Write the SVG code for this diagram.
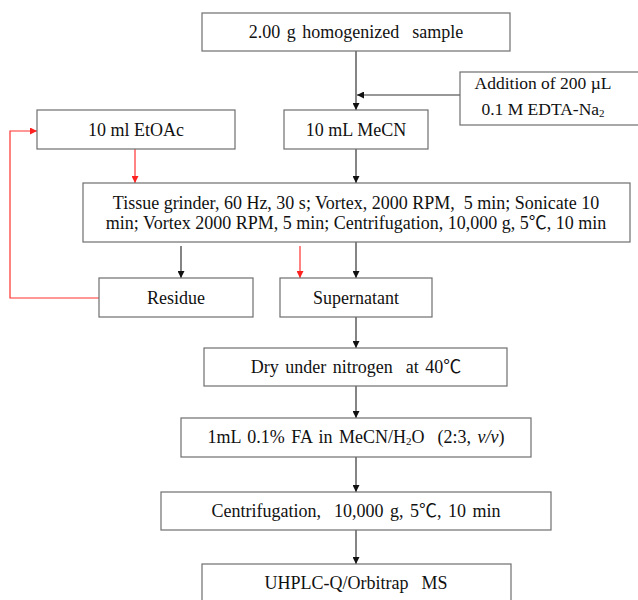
<svg xmlns="http://www.w3.org/2000/svg" width="638" height="600" viewBox="0 0 638 600" xml:space="preserve">
<defs>
<style>
.box{fill:#fff;stroke:#6e6e6e;stroke-width:1.2}
.t{font-family:"Liberation Serif","Times New Roman","Noto Sans CJK SC",serif;font-size:18px;fill:#111;text-anchor:middle;dominant-baseline:central;white-space:pre}
.k{stroke:#333;stroke-width:1.2;fill:none}
.r{stroke:#ff3030;stroke-width:1.2;fill:none}
.w{word-spacing:2px}
</style>
<marker id="ak" viewBox="0 0 10 10" refX="10" refY="5" markerWidth="7" markerHeight="7" markerUnits="userSpaceOnUse" orient="auto"><path d="M0,0L10,5L0,10z" fill="#111"/></marker>
<marker id="ar" viewBox="0 0 10 10" refX="10" refY="5" markerWidth="7" markerHeight="7" markerUnits="userSpaceOnUse" orient="auto"><path d="M0,0L10,5L0,10z" fill="#ff2020"/></marker>
</defs>
<rect width="638" height="600" fill="#fff"/>
<g id="connectors">
<path class="k" d="M356,51V110" marker-end="url(#ak)"/>
<path class="k" d="M460,95H357" marker-end="url(#ak)"/>
<path class="k" d="M356,149V183" marker-end="url(#ak)"/>
<path class="r" d="M135,149V183" marker-end="url(#ar)"/>
<path class="k" d="M181,246V278" marker-end="url(#ak)"/>
<path class="r" d="M300,246V278" marker-end="url(#ar)"/>
<path class="k" d="M356,242V278" marker-end="url(#ak)"/>
<path class="r" d="M99,298H10V131H37" marker-end="url(#ar)"/>
<path class="k" d="M356,317V348" marker-end="url(#ak)"/>
<path class="k" d="M356,386V418" marker-end="url(#ak)"/>
<path class="k" d="M356,457V492" marker-end="url(#ak)"/>
<path class="k" d="M356,530V564" marker-end="url(#ak)"/>
</g>
<g id="sample"><rect class="box" x="202" y="13" width="308" height="38"/><text class="t w" x="356" y="32">2.00 g homogenized  sample</text></g>
<g id="edta"><rect class="box" x="460" y="72" width="185" height="53"/><text class="t" x="543" y="83" style="font-size:17.5px">Addition of 200 µL</text><text class="t" x="543" y="109" style="font-size:17.5px">0.1 M EDTA-Na<tspan font-size="11" dy="4">2</tspan></text></g>
<g id="etoac"><rect class="box" x="37" y="110" width="198" height="39"/><text class="t" x="136" y="130">10 ml EtOAc</text></g>
<g id="mecn"><rect class="box" x="284" y="110" width="144" height="39"/><text class="t" x="356" y="130">10 mL MeCN</text></g>
<g id="extraction"><rect class="box" x="83" y="183" width="547" height="59"/><text class="t" x="356" y="203">Tissue grinder, 60 Hz, 30 s; Vortex, 2000 RPM,  5 min; Sonicate 10</text><text class="t" x="356" y="223">min; Vortex 2000 RPM, 5 min; Centrifugation, 10,000 g, 5℃, 10 min</text></g>
<g id="residue"><rect class="box" x="99" y="278" width="154" height="39"/><text class="t" x="176" y="298">Residue</text></g>
<g id="supernatant"><rect class="box" x="280" y="278" width="152" height="39"/><text class="t" x="356" y="298">Supernatant</text></g>
<g id="dry"><rect class="box" x="204" y="348" width="303" height="38"/><text class="t w" x="356" y="367">Dry under nitrogen  at 40℃</text></g>
<g id="reconstitute"><rect class="box" x="181" y="418" width="350" height="39"/><text class="t w" x="356" y="437">1mL 0.1% FA in MeCN/H<tspan font-size="11" dy="4">2</tspan><tspan dy="-4">O  (2:3, </tspan><tspan font-style="italic">v/v</tspan>)</text></g>
<g id="centrifugation"><rect class="box" x="161" y="492" width="390" height="38"/><text class="t w" x="356" y="511">Centrifugation,  10,000 g, 5℃, 10 min</text></g>
<g id="uhplc"><rect class="box" x="202" y="564" width="309" height="45"/><text class="t w" x="356" y="583">UHPLC-Q/Orbitrap  MS</text></g>
</svg>
